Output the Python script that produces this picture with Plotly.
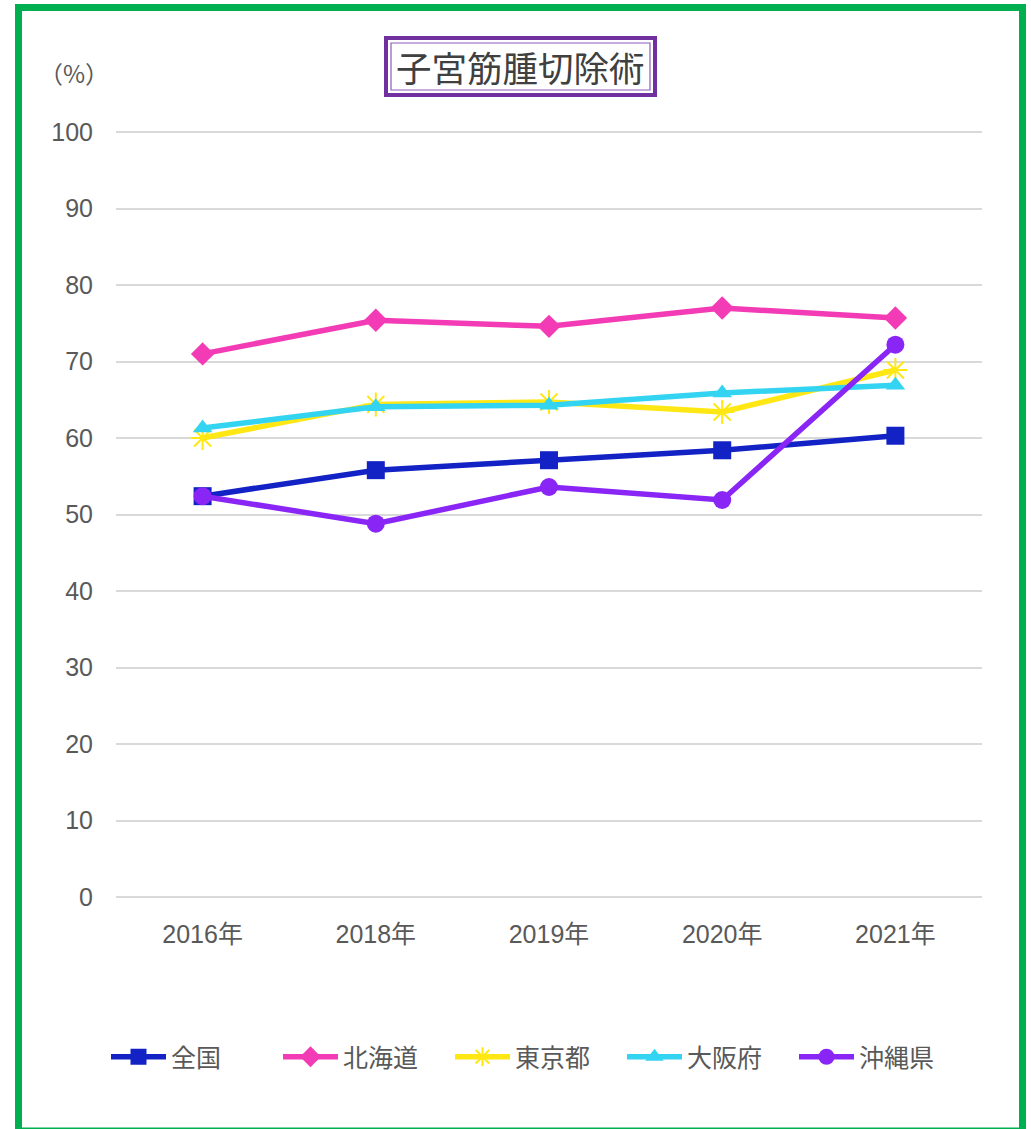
import plotly.graph_objects as go

years = ["2016年", "2018年", "2019年", "2020年", "2021年"]
zenkoku = [52.4, 55.8, 57.1, 58.4, 60.3]
hokkaido = [71.0, 75.4, 74.6, 77.0, 75.7]
tokyo = [60.0, 64.4, 64.7, 63.4, 68.9]
osaka = [61.3, 64.1, 64.3, 65.9, 66.9]
okinawa = [52.4, 48.8, 53.6, 51.9, 72.2]
y_ticks = [0, 10, 20, 30, 40, 50, 60, 70, 80, 90, 100]

series = [
    ("全国", zenkoku, "#1222C4", "square", 18),
    ("北海道", hokkaido, "#F23BB5", "diamond", 18),
    ("東京都", tokyo, "#FFE713", "asterisk-open", 20),
    ("大阪府", osaka, "#33D4F2", "triangle-up", 17),
    ("沖縄県", okinawa, "#8A26F5", "circle", 18),
]

FONT = "Liberation Sans, Arial, Noto Sans CJK JP, sans-serif"
CJK = "Noto Sans CJK JP, sans-serif"
W, H = 1031, 1129
L, R, T, B = 116, 49, 129, 232

fig = go.Figure()
for name, vals, color, sym, size in series:
    marker = dict(symbol=sym, size=size, color=color)
    if sym == "asterisk-open":
        marker["line"] = dict(color=color, width=2)
    fig.add_trace(go.Scatter(
        x=years, y=vals, name=name, mode="lines+markers",
        line=dict(color=color, width=5.5), marker=marker,
    ))

pw = W - L - R
ph = H - T - B
def px(x):
    return (x - L) / pw
def py(y):
    return (H - B - y) / ph

shapes = [
    # green frame
    dict(type="rect", xref="paper", yref="paper",
         x0=px(18.5), x1=px(1022.5), y0=py(1131), y1=py(7.5),
         line=dict(color="#00B050", width=7), layer="above"),
    # title box outer
    dict(type="rect", xref="paper", yref="paper",
         x0=px(386), x1=px(655), y0=py(95), y1=py(38),
         line=dict(color="#7030A0", width=4)),
    # title box inner
    dict(type="rect", xref="paper", yref="paper",
         x0=px(391), x1=px(650), y0=py(90), y1=py(43),
         line=dict(color="#8E5BC0", width=1.2)),
]

annotations = [
    dict(text="子宮筋腫切除術", xref="paper", yref="paper",
         x=px(520.5), y=py(66.5), xanchor="center", yanchor="middle",
         showarrow=False, font=dict(size=35.5, color="#404040", family=CJK)),
    dict(text="（%）", xref="paper", yref="paper",
         x=px(74), y=py(73), xanchor="center", yanchor="middle",
         showarrow=False, font=dict(size=24, color="#595959", family=CJK)),
]

fig.update_layout(
    width=W, height=H,
    margin=dict(l=L, r=R, t=T, b=B),
    paper_bgcolor="white", plot_bgcolor="white",
    font=dict(family=FONT, color="#595959", size=25),
    shapes=shapes, annotations=annotations,
    showlegend=True,
    legend=dict(orientation="h", x=px(106), y=py(1057), xanchor="left", yanchor="middle",
                font=dict(size=25, color="#595959", family=FONT),
                entrywidth=102, itemwidth=55, traceorder="normal"),
    xaxis=dict(type="category", range=[-0.5, 4.5], showgrid=False, zeroline=False,
               showline=False, ticks="", tickfont=dict(size=25, color="#595959"),
               ticklabelstandoff=20),
    yaxis=dict(range=[0, 100.4], tickvals=y_ticks, showgrid=True, gridcolor="#D9D9D9",
               gridwidth=1.5, zeroline=True, zerolinecolor="#D9D9D9", zerolinewidth=1.5,
               showline=False, ticks="", tickfont=dict(size=25, color="#595959"),
               ticklabelstandoff=22),
)

fig.write_html("out.html", config={"displayModeBar": False},
               post_script="document.body.style.margin='0';")
